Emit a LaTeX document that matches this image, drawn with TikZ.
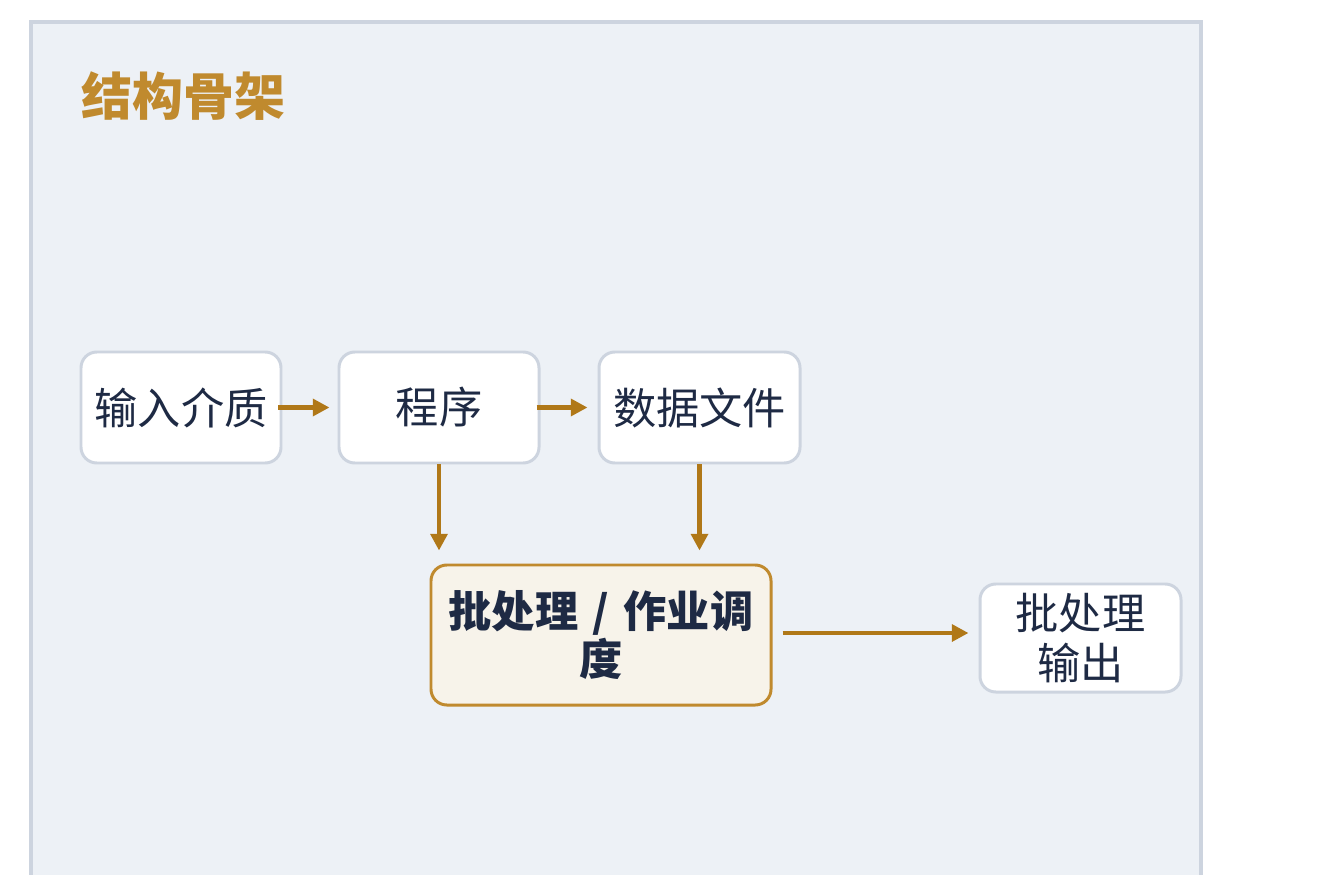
\documentclass[tikz,border=0pt]{standalone}
\usepackage{fontspec}
\setmainfont{Noto Sans CJK SC}
\usetikzlibrary{arrows.meta}

\definecolor{panelfill}{HTML}{EDF1F6}
\definecolor{panelline}{HTML}{CDD4DF}
\definecolor{titlegold}{HTML}{C08A2E}
\definecolor{flowgold}{HTML}{B07818}
\definecolor{inkblue}{HTML}{1E2A44}
\definecolor{corefill}{HTML}{F7F3EA}

\begin{document}
\begin{tikzpicture}[
    x=0.02cm, y=-0.02cm,
    stage/.style={rectangle, draw=panelline, fill=white, line width=1.7pt, rounded corners=9pt, align=center, text=inkblue, font=\fontsize{24.6}{28}\selectfont, inner sep=0pt},
    core/.style={rectangle, draw=titlegold, fill=corefill, line width=1.7pt, rounded corners=9pt, align=center, text=inkblue, font=\fontsize{24.6}{27}\selectfont\bfseries, inner sep=0pt},
    flow/.style={-{Triangle[length=9.5pt, width=9.5pt]}, draw=flowgold, line width=2.5pt}
]

\useasboundingbox (0, 0) rectangle (1325, 875);

% Panel
\begin{scope}
\clip (0, 0) rectangle (1325, 875);
\fill[panelfill] (31, 22) rectangle (1201, 900);
\draw[panelline, line width=2.3pt] (31, 900) -- (31, 22) -- (1201, 22) -- (1201, 900);
\end{scope}
\node[anchor=west, text=titlegold, font=\fontsize{29}{32}\selectfont\bfseries] (title) at (75, 96) {结构骨架};

% Top row
\node[stage, minimum width=200*0.02cm, minimum height=111*0.02cm] (medium) at (181, 407.5) {输入介质};
\node[stage, minimum width=200*0.02cm, minimum height=111*0.02cm] (program) at (439, 407.5) {程序};
\node[stage, minimum width=201*0.02cm, minimum height=111*0.02cm] (datafile) at (699.5, 407.5) {数据文件};

% Batch scheduling
\node[core, minimum width=340*0.02cm, minimum height=140*0.02cm, text width=320*0.02cm] (batch) at (601, 635) {批处理 / 作业调\\度};

% Output
\node[stage, minimum width=201*0.02cm, minimum height=108*0.02cm, text width=190*0.02cm] (output) at (1080.5, 638) {批处理\\输出};

% Connections
\draw[flow, shorten <=-4*0.02cm, shorten >=8*0.02cm] (medium) -- (program);
\draw[flow, shorten <=-4*0.02cm, shorten >=10*0.02cm] (program) -- (datafile);
\draw[flow, shorten >=13*0.02cm] (program) -- (program |- batch.north);
\draw[flow, shorten >=13*0.02cm] (datafile) -- (datafile |- batch.north);
\draw[flow, shorten <=10*0.02cm, shorten >=10*0.02cm] (batch.east |- 0, 633) -- (output.west |- 0, 633);

\end{tikzpicture}
\end{document}
